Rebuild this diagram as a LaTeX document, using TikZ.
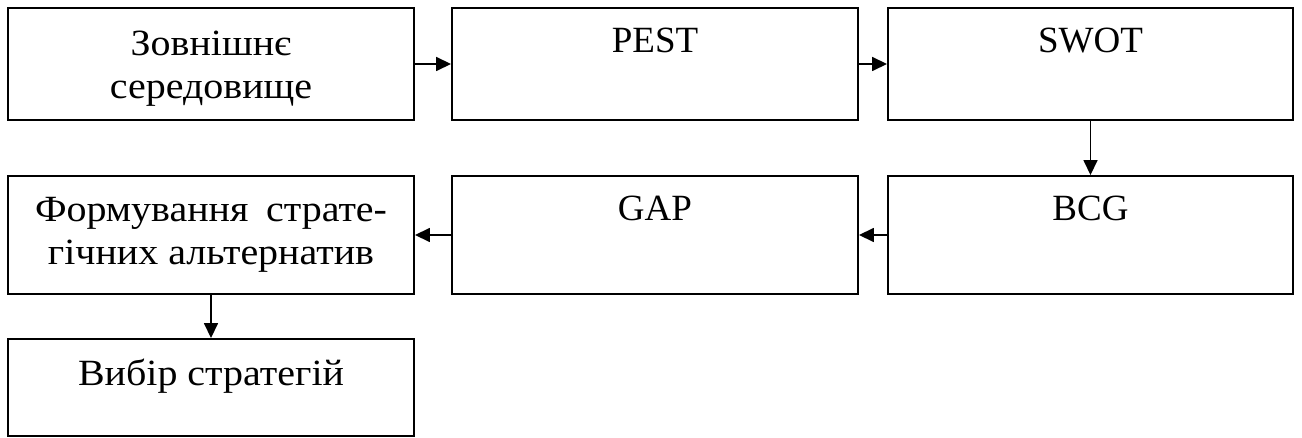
\documentclass[tikz,border=0pt]{standalone}
\usepackage{fontspec}
\setmainfont{Liberation Serif}
% slightly wider cut of the serif for the Ukrainian captions
\newfontfamily\ukr[FakeStretch=1.08]{Liberation Serif}
\usetikzlibrary{arrows.meta}
% caption block whose reference point is the baseline of its first line
\newcommand{\capt}[1]{\begin{tabular}[t]{@{}c@{}}#1\end{tabular}}
\tikzset{
  blk/.style={draw, line width=1.9pt, rectangle, inner sep=0pt},
  txt/.style={anchor=base, inner sep=0pt,
              font=\fontsize{37}{43}\selectfont},
  utxt/.style={txt, font=\fontsize{37}{43}\selectfont\ukr},
  link/.style={line width=1.6pt, -{Triangle[length=15pt,width=14pt]}}
}
\begin{document}
\begin{tikzpicture}[x=1pt, y=-1pt]
\useasboundingbox (0,0) rectangle (1302,438);
% process boxes
\node[blk, minimum width=406pt, minimum height=112pt] (b1) at (211,64) {};
\node[blk, minimum width=406pt, minimum height=112pt] (b2) at (655,64) {};
\node[blk, minimum width=405pt, minimum height=112pt] (b3) at (1090.5,64) {};
\node[blk, minimum width=406pt, minimum height=118pt] (b4) at (211,235) {};
\node[blk, minimum width=406pt, minimum height=118pt] (b5) at (655,235) {};
\node[blk, minimum width=405pt, minimum height=118pt] (b6) at (1090.5,235) {};
\node[blk, minimum width=406pt, minimum height=97pt] (b7) at (211,387.5) {};
% captions, set from the top edge of each box
\node[utxt] (t1) at ([yshift=-48pt]b1.north) {\capt{Зовнішнє\\середовище}};
\node[txt] (t2) at ([yshift=-45pt]b2.north) {PEST};
\node[txt] (t3) at ([yshift=-45pt]b3.north) {SWOT};
\node[utxt] (t4) at ([yshift=-46pt]b4.north)
  {\capt{\makebox[352pt][s]{Формування страте-}\\гічних альтернатив}};
\node[txt] (t5) at ([yshift=-45pt]b5.north) {GAP};
\node[txt] (t6) at ([yshift=-45pt]b6.north) {BCG};
\node[utxt] (t7) at ([yshift=-47pt]b7.north) {Вибір стратегій};
% flow
\draw[link] (b1) -- (b2);
\draw[link] (b2) -- (b3);
\draw[link] (b3) -- (b6);
\draw[link] (b6) -- (b5);
\draw[link] (b5) -- (b4);
\draw[link] (b4) -- (b7);
\end{tikzpicture}
\end{document}
